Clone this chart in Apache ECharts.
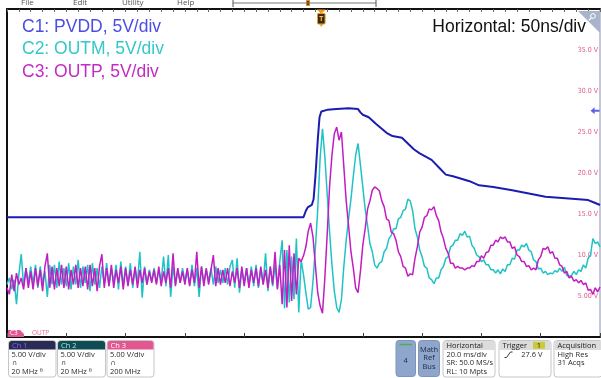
<!DOCTYPE html>
<html>
<head>
<meta charset="utf-8">
<script src="https://cdn.jsdelivr.net/npm/echarts/dist/echarts.min.js"></script>
<style>
  html, body { margin: 0; padding: 0; background: #fff; }
  #main { width: 601px; height: 378px; }
</style>
</head>
<body>
<div id="main"></div>
<script>
// ---- Acquisition record (time in ns, amplitude in V) ----
const sampleStepNs = 2;          // spacing of the OUTM / OUTP records
const timeSpanNs = [0, 500];     // 10 div x 50 ns
const voltSpan = [0, 40];        // 8 div x 5 V

// C2: OUTM
const outmVolts = [
  6.4, 7.2, 5.8, 7.0, 4.0, 7.6, 10.1, 6.2, 8.4, 6.6,
  8.6, 6.4, 8.8, 6.0, 8.6, 6.6, 8.0, 4.9, 8.8, 6.4,
  8.8, 6.0, 9.2, 6.4, 8.4, 6.2, 9.0, 5.8, 8.6, 6.4,
  9.4, 6.0, 8.6, 6.6, 8.8, 5.6, 9.0, 6.4, 8.4, 6.0,
  8.6, 6.4, 9.0, 6.2, 8.4, 6.6, 8.8, 5.8, 9.2, 6.2,
  8.6, 6.4, 9.0, 6.0, 8.4, 6.6, 10.4, 4.8, 8.6, 6.4,
  8.2, 6.8, 8.4, 6.6, 8.2, 6.8, 9.8, 6.2, 10.0, 4.9,
  8.6, 6.4, 8.2, 6.6, 8.4, 6.8, 8.2, 6.4, 8.8, 6.2,
  8.4, 4.9, 8.6, 6.6, 8.2, 6.8, 8.4, 6.4, 8.6, 6.6,
  8.2, 6.6, 8.4, 6.4, 8.6, 9.4, 6.0, 9.6, 5.4, 8.2,
  6.6, 8.4, 6.4, 8.6, 6.2, 8.8, 6.0, 8.4, 6.4, 10.2,
  5.6, 8.6, 6.2, 8.8, 6.0, 9.2,
  11.8, 3.5, 10.6, 4.2, 9.8, 4.6, 12.0, 3.0,
  9.4, 7.6, 5.4, 3.4, 3.6, 6.8, 10.8, 15.6, 21.8, 25.4,
  22.0, 17.4, 12.8, 8.8, 5.6, 3.6, 3.0, 4.6, 8.6, 11.8,
  14.4, 16.8, 19.6, 22.2, 23.6, 21.0, 18.3, 15.6, 13.6, 11.4,
  10.4, 8.8, 8.4, 9.0, 9.2, 10.4, 10.8, 12.0, 12.4, 13.2,
  13.2, 14.4, 14.6, 15.4, 15.6, 16.8, 16.6, 15.4, 13.2, 12.2,
  10.6, 9.8, 8.6, 8.4, 7.2, 7.0, 6.5, 7.2, 7.2, 8.2,
  8.6, 9.6, 9.8, 11.0, 11.2, 11.8, 11.8, 12.6, 12.4, 12.9,
  12.2, 12.3, 11.2, 10.8, 10.0, 9.8, 9.2, 9.4, 8.8, 8.8,
  8.2, 8.2, 7.8, 8.2, 7.7, 8.3, 8.0, 8.8, 8.8, 9.6,
  9.5, 10.6, 10.6, 11.2, 11.0, 11.4, 10.6, 10.4, 9.4, 9.2,
  8.3, 8.4, 7.8, 8.0, 7.6, 7.8, 7.7, 8.1, 7.9, 8.4,
  8.0, 8.5, 7.5, 7.4, 7.5, 8.0, 7.6, 8.2, 8.0, 8.8,
  8.4, 9.6, 10.0, 12.0, 11.4, 11.6, 11.0
];

// C3: OUTP
const outpVolts = [
  6.0, 5.2, 7.6, 5.6, 7.8, 6.4, 7.2, 5.8, 8.4, 6.0,
  8.0, 5.8, 8.4, 6.2, 8.2, 5.6, 8.6, 10.2, 6.0, 8.6,
  5.8, 8.4, 6.2, 8.8, 6.0, 8.6, 5.8, 8.2, 6.4, 8.8,
  6.0, 8.4, 6.2, 8.6, 5.8, 8.8, 6.2, 8.4, 5.6, 8.6,
  10.1, 6.0, 8.4, 6.2, 8.8, 6.0, 8.2, 6.6, 8.6, 5.8,
  8.4, 6.2, 8.2, 6.4, 8.6, 6.0, 8.2, 6.6, 8.4, 6.4,
  8.0, 6.6, 8.2, 6.4, 8.6, 6.2, 8.0, 6.6, 8.4, 6.0,
  10.2, 6.2, 8.4, 6.6, 8.0, 6.4, 8.4, 6.2, 8.2, 6.6,
  10.4, 6.0, 8.6, 6.2, 8.4, 6.4, 8.2, 10.0, 6.2, 8.4,
  6.4, 8.2, 6.6, 8.4, 6.2, 8.0, 6.6, 8.4, 6.0, 8.6,
  6.2, 8.4, 6.0, 8.2, 6.6, 8.4, 6.2, 8.6, 6.4, 8.2,
  6.0, 8.6, 6.4, 10.4, 5.8, 8.8,
  4.0, 10.6, 3.6, 11.2, 4.4, 10.2, 5.2, 9.6,
  9.2, 9.9, 11.0, 12.9, 13.9, 12.2, 8.8, 5.4, 3.8, 2.9,
  7.2, 12.6, 18.4, 22.2, 24.8, 25.6, 24.0, 25.0, 20.8, 16.6,
  13.6, 10.4, 8.4, 6.0, 5.4, 8.0, 11.2, 13.2, 15.6, 16.6,
  17.9, 18.3, 18.1, 17.8, 16.6, 15.9, 14.4, 14.2, 12.8, 12.6,
  11.8, 10.4, 9.8, 8.6, 8.4, 7.4, 7.7, 7.6, 9.6, 11.0,
  12.8, 13.4, 14.6, 14.8, 15.6, 15.5, 15.9, 14.8, 14.2, 12.8,
  12.0, 10.8, 10.2, 9.0, 9.0, 8.4, 8.6, 8.4, 8.4, 8.2,
  8.4, 8.4, 8.7, 8.6, 9.2, 9.2, 9.9, 9.6, 10.3, 10.4,
  11.2, 11.2, 11.8, 11.6, 12.2, 12.0, 12.2, 11.6, 11.6, 10.8,
  11.0, 10.0, 9.8, 9.2, 9.2, 8.6, 8.7, 8.2, 8.4, 8.2,
  9.4, 9.8, 10.8, 10.7, 11.0, 10.2, 10.4, 9.6, 9.6, 8.8,
  8.6, 7.8, 8.0, 7.2, 7.4, 6.8, 7.0, 6.6, 6.9, 6.4,
  6.6, 5.7, 5.8, 5.2, 6.0, 5.5, 6.1
];

// C1: PVDD
const pvddTimesNs = [
  0, 250, 252, 253.5, 257, 258.5, 260, 262, 263.5, 265,
  270, 278, 288, 296, 298, 300, 305, 311, 316, 320,
  325, 333, 338, 343, 348, 353, 358, 364, 370, 376,
  381, 390, 398, 410, 426, 440, 454, 468, 482, 490,
  495, 500
];
const pvddVolts = [
  14.6, 14.6, 15.4, 15.8, 16.1, 16.8, 19.5, 24.0, 26.8, 27.5,
  27.7, 27.8, 27.9, 27.8, 27.4, 27.1, 26.8, 26.0, 25.4, 24.9,
  24.5, 24.3, 23.6, 22.9, 22.4, 22.0, 21.6, 20.7, 19.8, 19.6,
  19.4, 19.0, 18.5, 18.3, 17.9, 17.5, 17.1, 16.95, 16.8, 16.7,
  16.4, 16.1
];

const triggerLevelV = 27.6;
const triggerTimeNs = 265;

const channelNotes = ['C1: PVDD, 5V/div', 'C2: OUTM, 5V/div', 'C3: OUTP, 5V/div'];
const channelColors = ['#4c4ce6', '#35c8c8', '#c22cc4'];
const traceColors = ['#1c1cb0', '#1fc3c6', '#c21cc2'];
const timebaseNote = 'Horizontal: 50ns/div';

// ---- chart ----
const chart = echarts.init(document.getElementById('main'), null, { renderer: 'canvas' });

const toSeries = arr => arr.map((v, i) => [i * sampleStepNs, v]);
const pvddSeries = pvddTimesNs.map((t, i) => [t, pvddVolts[i]]);

const hidden = { show: false };
chart.setOption({
  animation: false,
  backgroundColor: '#ffffff',
  grid: { left: 7, right: 1, top: 9, bottom: 41, containLabel: false },
  xAxis: [
    {
      type: 'value', min: timeSpanNs[0], max: timeSpanNs[1], interval: 50, position: 'bottom',
      axisLine: { show: true, onZero: false, lineStyle: { color: '#111', width: 2 } },
      axisTick: { show: true, inside: true, length: 4, lineStyle: { color: '#444', width: 1 } },
      axisLabel: hidden, splitLine: hidden
    },
    {
      type: 'value', min: timeSpanNs[0], max: timeSpanNs[1], interval: 10, position: 'top',
      axisLine: { show: true, onZero: false, lineStyle: { color: '#111', width: 2 } },
      axisTick: { show: true, inside: true, length: 3, lineStyle: { color: '#666', width: 1 } },
      axisLabel: hidden, splitLine: hidden
    }
  ],
  yAxis: [
    {
      type: 'value', min: voltSpan[0], max: voltSpan[1], interval: 5, position: 'right',
      axisLine: { show: true, onZero: false, lineStyle: { color: '#c4c8d4', width: 2 } },
      axisTick: hidden, splitLine: hidden,
      axisLabel: {
        inside: true, margin: 2, color: '#e0588e', fontSize: 7,
        fontFamily: '"DejaVu Sans Condensed", "Liberation Sans Narrow", sans-serif',
        showMinLabel: false, showMaxLabel: false,
        formatter: v => (v < 10 ? v.toFixed(2) : v.toFixed(1)) + ' V'
      }
    },
    {
      type: 'value', min: voltSpan[0], max: voltSpan[1], position: 'left',
      axisLine: { show: true, onZero: false, lineStyle: { color: '#111', width: 2 } },
      axisTick: hidden, axisLabel: hidden, splitLine: hidden
    }
  ],
  series: [
    {
      name: 'OUTM', type: 'line', data: toSeries(outmVolts), showSymbol: false, silent: true,
      lineStyle: { color: traceColors[1], width: 1.5 }, z: 3
    },
    {
      name: 'OUTP', type: 'line', data: toSeries(outpVolts), showSymbol: false, silent: true,
      lineStyle: { color: traceColors[2], width: 1.5 }, z: 4
    },
    {
      name: 'PVDD', type: 'line', data: pvddSeries, showSymbol: false, silent: true,
      lineStyle: { color: traceColors[0], width: 2 }, z: 5
    },
    {
      name: 'trigger level', type: 'scatter', silent: true, clip: false, z: 6,
      data: [[timeSpanNs[1], triggerLevelV]],
      symbol: 'path://M0,5 L6,0 L6,3.6 L13,3.6 L13,6.4 L6,6.4 L6,10 Z',
      symbolSize: [9, 7], symbolOffset: [-5, 0],
      itemStyle: { color: '#3a3ae0' }
    }
  ]
});

// ---- screen furniture ----
const uiFont = '"Open Sans", "DejaVu Sans", sans-serif';
function txt(x, y, s, o) {
  return {
    type: 'text', silent: true, z: 30,
    style: Object.assign({
      x: x, y: y, text: s, fill: '#2a2a2a', font: '7.5px ' + uiFont,
      align: 'left', verticalAlign: 'middle', textAlign: 'left', textVerticalAlign: 'middle'
    }, o || {})
  };
}
function box(x, y, w, h, fill, stroke, r) {
  return {
    type: 'rect', silent: true, z: 15,
    shape: { x: x, y: y, width: w, height: h, r: r || 0 },
    style: { fill: fill, stroke: stroke || null, lineWidth: 1 }
  };
}
function line(pts, color, w) {
  return { type: 'polyline', silent: true, z: 16, shape: { points: pts }, style: { stroke: color, lineWidth: w || 1, fill: null } };
}
function poly(pts, fill) {
  return { type: 'polygon', silent: true, z: 21, shape: { points: pts }, style: { fill: fill } };
}

const g = [];
// menu strip
[['File', 21], ['Edit', 73], ['Utility', 122], ['Help', 177]].forEach(([s, x]) => {
  g.push(txt(x, 3, s, { fill: '#555', font: '8px ' + uiFont }));
});
g.push(line([[233, 3], [376, 3]], '#777', 1));
g.push(line([[233, 0], [233, 7]], '#555', 1));
g.push(line([[376, 0], [376, 7]], '#555', 1));
g.push(box(306.5, 0.5, 3, 5, '#6a3a10', '#e08a20'));

// channel notes and time base
channelNotes.forEach((s, i) => {
  g.push(txt(22, [27, 49.5, 72.5][i], s, { fill: channelColors[i], font: '17.5px "Liberation Sans", Arial, sans-serif' }));
});
g.push(txt(586, 27, timebaseNote, {
  fill: '#111', font: '17.5px "Liberation Sans", Arial, sans-serif', align: 'right', textAlign: 'right'
}));

// zoom corner
g.push(poly([[578, 11], [600, 11], [600, 33]], '#a9b4cc'));
g.push({ type: 'circle', silent: true, z: 22, shape: { cx: 593, cy: 16, r: 2.4 }, style: { fill: null, stroke: '#fff', lineWidth: 1 } });
g.push({ type: 'line', silent: true, z: 22, shape: { x1: 591.3, y1: 17.8, x2: 588.8, y2: 20.3 }, style: { stroke: '#fff', lineWidth: 1.2 } });

// C3 ground reference tab
const gnd = chart.convertToPixel({ yAxisIndex: 0 }, 0);
g.push(poly([[8, gnd - 7], [20, gnd - 7], [24, gnd - 3], [24, gnd], [8, gnd]], '#e0588e'));
g.push(txt(10, gnd - 3.5, 'C3', { fill: '#fff', font: '6.5px ' + uiFont }));
g.push(txt(32, gnd - 4, 'OUTP', { fill: '#e46a9a', font: '6.5px ' + uiFont }));

// trigger position marker
const tx = chart.convertToPixel({ xAxisIndex: 0 }, triggerTimeNs);
g.push(poly([[tx - 4.5, 9.5], [tx + 4.5, 9.5], [tx, 14]], '#f29a24'));
g.push(box(tx - 3.8, 13.5, 7.6, 10.5, '#3c2c14', '#f29a24', 1));
g.push(txt(tx, 19, 'T', { fill: '#f7c070', font: 'bold 7px ' + uiFont, align: 'center', textAlign: 'center' }));
g.push(poly([[tx - 2, 24], [tx + 2, 24], [tx, 27]], '#f29a24'));

// bottom badges: channels
const chBadges = [
  { x: 8.5, w: 47.5, head: '#2b2b55', headText: '#6a6aff', name: 'Ch 1', bw: '20 MHz', mark: true },
  { x: 57.5, w: 48, head: '#0f4c54', headText: '#9ee8ea', name: 'Ch 2', bw: '20 MHz', mark: true },
  { x: 107, w: 47, head: '#e0588f', headText: '#ffffff', name: 'Ch 3', bw: '200 MHz', mark: false }
];
chBadges.forEach(b => {
  g.push(box(b.x, 340.5, b.w, 36.5, '#fff', '#c6c6c6', 3));
  g.push(box(b.x + 0.5, 341, b.w - 1, 8.5, b.head, null, [2.5, 2.5, 0, 0]));
  g.push(txt(b.x + 3.5, 345.5, b.name, { fill: b.headText }));
  g.push(txt(b.x + 3, 354.5, '5.00 V/div'));
  g.push(txt(b.x + 3.5, 363, '\u2229', { font: '7px ' + uiFont, fill: '#444' }));
  g.push(txt(b.x + 3, 372, b.bw + (b.mark ? ' \u1D2E' : '')));
});

// math / ref buttons
g.push(box(396, 340.5, 19.5, 36, '#8ea6cb', '#7d95ba', 3));
g.push(line([[399.5, 344.5], [412, 344.5]], '#4daf4a', 1.5));
g.push(txt(405.75, 361, '4', { fill: '#1e2a40', align: 'center', textAlign: 'center' }));
g.push(box(418.5, 340.5, 21, 36, '#8ea6cb', '#7d95ba', 3));
[['Math', 349.5], ['Ref', 358], ['Bus', 367]].forEach(([s, y]) => {
  g.push(txt(429, y, s, { fill: '#1e2a40', align: 'center', textAlign: 'center' }));
});

// horizontal / trigger / acquisition panels
const panels = [
  { x: 443, w: 52, title: 'Horizontal', rows: ['20.0 ms/div', 'SR: 50.0 MS/s', 'RL: 10 Mpts'] },
  { x: 499, w: 52, title: 'Trigger', rows: [] },
  { x: 554, w: 48, title: 'Acquisition', rows: ['High Res', '31 Acqs'] }
];
panels.forEach(p => {
  g.push(box(p.x, 340.5, p.w, 36.5, '#fff', '#c6c6c6', 3));
  g.push(box(p.x + 0.5, 341, p.w - 1, 9, '#dcdcdc', null, [2.5, 2.5, 0, 0]));
  g.push(txt(p.x + 3.5, 345.7, p.title, { fill: '#1a1a1a' }));
  p.rows.forEach((s, i) => g.push(txt(p.x + 3.5, 354.5 + i * 8.8, s)));
});
g.push(box(533, 341.8, 12, 7, '#c9c93a', null, 0));
g.push(txt(539, 345.5, '1', { fill: '#222', align: 'center', textAlign: 'center' }));
g.push(line([[504.5, 357.5], [506.5, 357.5], [510.5, 352], [512.5, 352]], '#333', 1));
g.push(txt(542.5, 354.5, triggerLevelV.toFixed(1) + ' V', { align: 'right', textAlign: 'right' }));

chart.setOption({ graphic: { elements: g } });
</script>
</body>
</html>
